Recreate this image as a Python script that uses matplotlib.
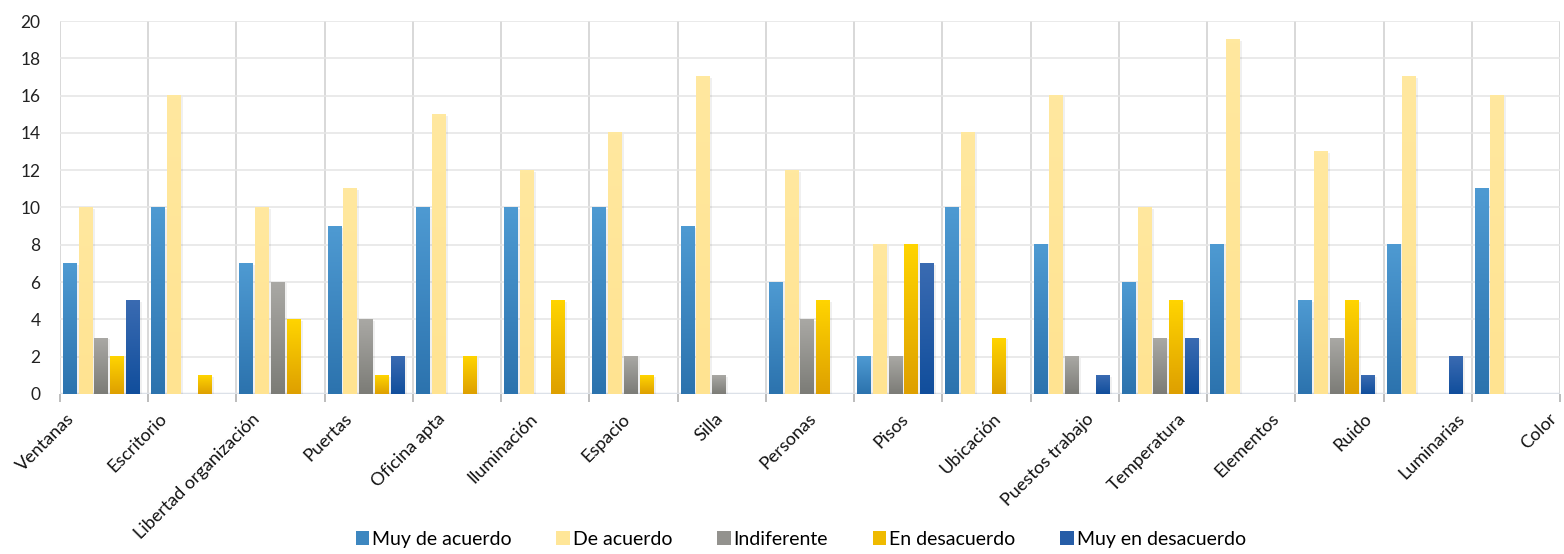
import numpy as np
import matplotlib
matplotlib.use('Agg')
from matplotlib import pyplot as plt
from matplotlib.colors import LinearSegmentedColormap
from matplotlib.patches import Patch
import matplotlib.patheffects as pe

plt.rcParams['font.family'] = ['Lato', 'DejaVu Sans']

cats = ['Ventanas', 'Escritorio', 'Libertad organización', 'Puertas', 'Oficina apta',
        'Iluminación', 'Espacio', 'Silla', 'Personas', 'Pisos', 'Ubicación',
        'Puestos trabajo', 'Temperatura', 'Elementos', 'Ruido', 'Luminarias', 'Color']

muy_de_acuerdo = [7, 10, 7, 9, 10, 10, 10, 9, 6, 2, 10, 8, 6, 8, 5, 8, 11]
de_acuerdo = [10, 16, 10, 11, 15, 12, 14, 17, 12, 8, 14, 16, 10, 19, 13, 17, 16]
indiferente = [3, 0, 6, 4, 0, 0, 2, 1, 4, 2, 0, 2, 3, 0, 3, 0, 0]
en_desacuerdo = [2, 1, 4, 1, 2, 5, 1, 0, 5, 8, 3, 0, 5, 0, 5, 0, 0]
muy_en_desacuerdo = [5, 0, 0, 2, 0, 0, 0, 0, 0, 7, 0, 1, 3, 0, 1, 2, 0]

names = ['Muy de acuerdo', 'De acuerdo', 'Indiferente', 'En desacuerdo', 'Muy en desacuerdo']
# (top colour, bottom colour) of each gradient
colours = [('#4E9AD2', '#2C73AE'),
           ('#FFE89F', '#FFE391'),
           ('#A9A8A4', '#7C7C77'),
           ('#FFD400', '#DEA000'),
           ('#3A6BB2', '#114E9C')]

fig = plt.figure(figsize=(15.64, 5.54), dpi=100)
ax = fig.add_axes([60/1564, 1-394/554, 1500/1564, 373/554])

x = np.arange(len(cats))
grad = np.linspace(0, 1, 64).reshape(-1, 1)
handles = []
for k, (name, vals) in enumerate(zip(names, [muy_de_acuerdo, de_acuerdo, indiferente,
                                                  en_desacuerdo, muy_en_desacuerdo])):
    ctop, cbot = colours[k]
    pos = x - 0.387 + k*0.178
    bars = ax.bar(pos, vals, width=0.158, color=cbot, zorder=3,
                  path_effects=[pe.SimplePatchShadow(offset=(1.5, -1), shadow_rgbFace='#000000', alpha=0.06),
                                pe.Normal()])
    cmap = LinearSegmentedColormap.from_list(name, [cbot, ctop])
    for b in bars:
        h = b.get_height()
        if h <= 0:
            continue
        ax.imshow(grad, cmap=cmap, origin='lower', aspect='auto', interpolation='bilinear',
                  extent=(b.get_x(), b.get_x()+b.get_width(), 0, h), zorder=4)
    handles.append(Patch(facecolor=cmap(0.5), edgecolor='none', label=name))

ax.set_xlim(-0.5, 16.5)
ax.set_ylim(0, 20)

ax.set_yticks(range(0, 21, 2))
ax.tick_params(axis='y', length=0, pad=14, labelsize=12.5, labelcolor='#222222')

ax.set_xticks(-0.364 + 1.05*x)
ax.set_xticklabels(cats, rotation=45, ha='right', va='center', rotation_mode='anchor',
                   fontsize=13, color='#111111')
ax.tick_params(axis='x', which='major', length=0, pad=16)
ax.set_xticks(np.arange(-0.5, 17, 1), minor=True)
ax.tick_params(axis='x', which='minor', length=6, width=1.4, color='#BDBDBD')

ax.grid(axis='x', which='minor', color='#D2D2D2', lw=1.2, zorder=1)
ax.grid(axis='y', which='major', color='#E6E6E6', lw=1.2, zorder=0)
ax.axhline(0, color='#DCE1E8', lw=2.5, zorder=2)
for s in ax.spines.values():
    s.set_visible(False)

fig.legend(handles=handles, loc='lower center', bbox_to_anchor=(0.512, -0.02), ncol=5,
           frameon=False, fontsize=14, handlelength=0.7, handleheight=0.7,
           handletextpad=0.15, columnspacing=2.3)

fig.savefig('out.png', dpi=100)
